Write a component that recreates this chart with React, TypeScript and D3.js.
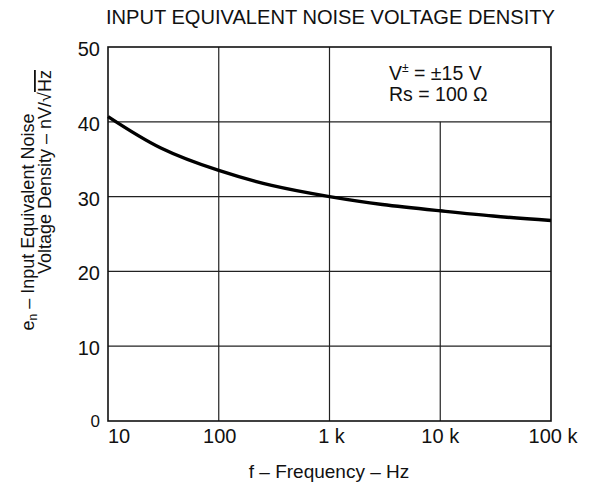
import React from "react";
import * as d3 from "d3";

const freqs = [10, 30, 100, 300, 1000, 3000, 10000, 30000, 100000];
const noise = [40.7, 36.5, 33.5, 31.5, 30.0, 28.95, 28.1, 27.4, 26.8];
const xTicks = [10, 100, 1000, 10000, 100000];
const xTickLabels = ["10", "100", "1 k", "10 k", "100 k"];
const yTicks = [0, 10, 20, 30, 40, 50];

export default function App() {
  const W = 594, H = 495;
  const left = 108, right = 551, top = 47, bottom = 421;
  const x = d3.scaleLog().domain([10, 100000]).range([left, right]);
  const y = d3.scaleLinear().domain([0, 50]).range([bottom, top]);
  const pts: [number, number][] = freqs.map((f, i) => [x(f), y(noise[i])]);
  const line = d3.line().curve(d3.curveNatural)(pts) || "";
  const font = "Liberation Sans, Arial, sans-serif";
  const xOff = [11, 1, 2, 0, 2];
  return (
    <svg width={W} height={H} style={{ position: "absolute", left: 0, top: 0, background: "#fff" }} fontFamily={font}>
      <text x={106} y={24} fontSize={19.5} fill="#111" textLength={449} lengthAdjust="spacingAndGlyphs">INPUT EQUIVALENT NOISE VOLTAGE DENSITY</text>
      {xTicks.slice(1, -1).map((t) => (
        <line key={"vx" + t} x1={x(t)} x2={x(t)} y1={t === 10000 ? y(40) : top} y2={bottom} stroke="#222" strokeWidth={1.2} />
      ))}
      {yTicks.slice(1, -1).map((t) => (
        <line key={"hy" + t} x1={left} x2={right} y1={y(t)} y2={y(t)} stroke="#222" strokeWidth={1.2} />
      ))}
      <rect x={left} y={top} width={right - left} height={bottom - top} fill="none" stroke="#111" strokeWidth={1.6} />
      <path d={line} fill="none" stroke="#000" strokeWidth={3.4} />
      {yTicks.map((t) => (
        <text key={"yl" + t} x={100} y={t === 0 ? 427 : y(t) + 9} textAnchor="end" fontSize={t === 0 ? 17 : 20} fill="#111">{t}</text>
      ))}
      {xTicks.map((t, i) => (
        <text key={"xl" + t} x={x(t) + xOff[i]} y={443} textAnchor="middle" fontSize={20} fill="#111">{xTickLabels[i]}</text>
      ))}
      <text x={329} y={478} textAnchor="middle" fontSize={19} fill="#111">f – Frequency – Hz</text>
      <g transform="translate(34,222) rotate(-90)">
        <text x={0} y={0} textAnchor="middle" fontSize={18} fill="#111">
          e<tspan fontSize={12} dy={3}>n</tspan><tspan fontSize={18} dy={-3}> – Input Equivalent Noise</tspan>
        </text>
      </g>
      <g transform="translate(51,172) rotate(-90)">
        <text x={0} y={0} textAnchor="middle" fontSize={18} fill="#111">Voltage Density – nV/√<tspan textDecoration="overline">Hz</tspan></text>
      </g>
      <text x={389} y={80} fontSize={19.5} fill="#111">V<tspan fontSize={12} dy={-8}>±</tspan><tspan dy={8}> = ±15 V</tspan></text>
      <text x={389} y={101} fontSize={19.5} fill="#111">Rs = 100 Ω</text>
    </svg>
  );
}
